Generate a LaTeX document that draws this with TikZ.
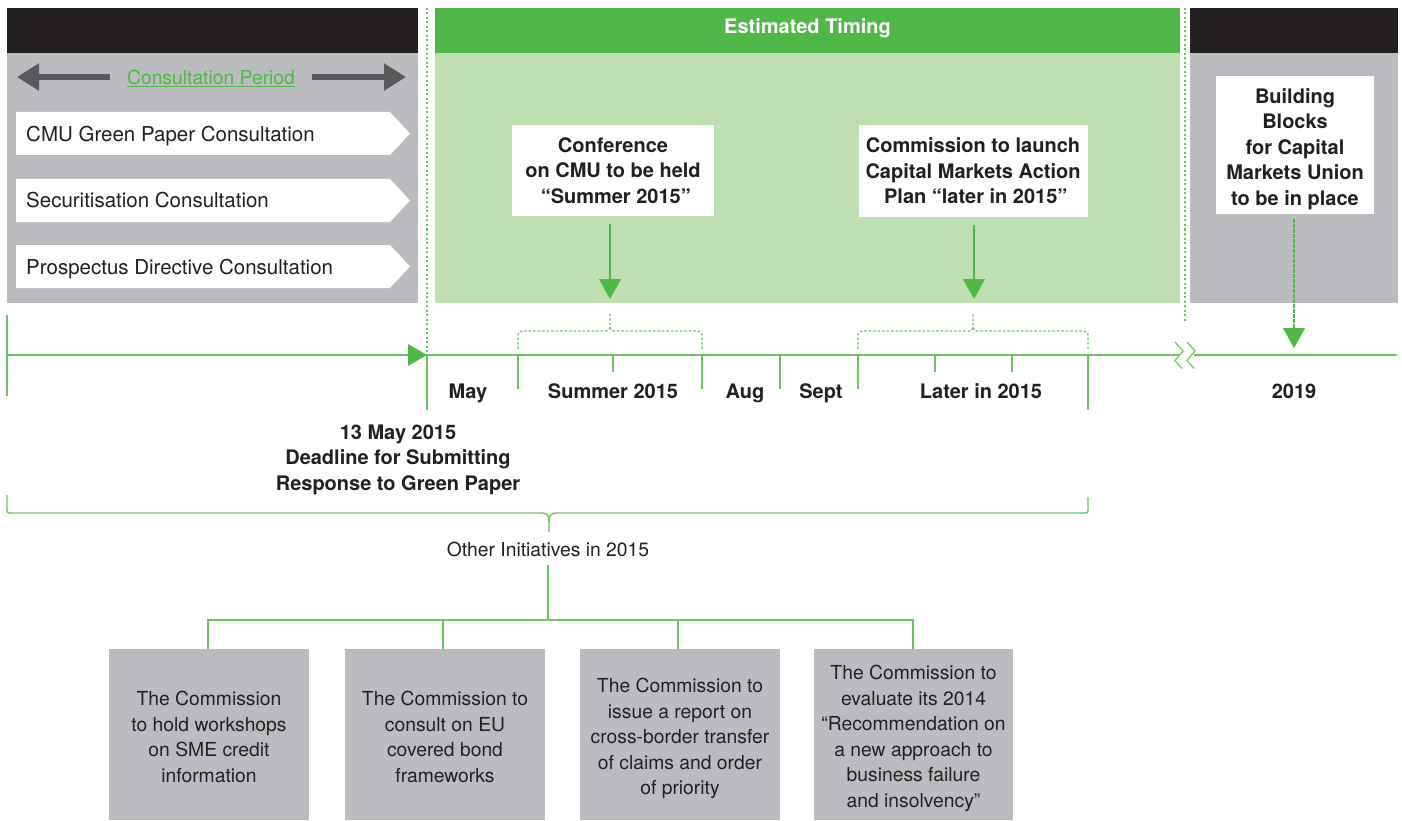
\documentclass[tikz,border=0pt]{standalone}
\usepackage{fontspec}
\setmainfont{TeX Gyre Heros}
\usetikzlibrary{arrows.meta,calc}
\definecolor{gline}{HTML}{6CC463}
\definecolor{garrow}{HTML}{50B848}
\definecolor{lgreen}{HTML}{BFDFB2}
\definecolor{panelgrey}{HTML}{BBBCBF}
\definecolor{hdrblack}{HTML}{231F20}
\definecolor{darrow}{HTML}{58595B}
\definecolor{txt}{HTML}{231F20}
\newcommand\regtxt{\fontsize{19.3}{25.5}\selectfont}
\newcommand\chevtxt{\fontsize{20.5}{25.5}\selectfont}
\newcommand\boldtxt{\fontsize{20}{25.5}\selectfont\bfseries}
\tikzset{
  gl/.style={draw=gline, line width=1.4pt},
  gdash/.style={draw=gline, line width=1.3pt, dash pattern=on 2.5pt off 2pt},
  gdot/.style={draw=gline, line width=1.6pt, dash pattern=on 2pt off 2.5pt},
  whitebox/.style={fill=white, inner sep=0pt},
  greybox/.style={fill=panelgrey, inner sep=0pt, minimum width=200pt, minimum height=171pt},
  boxtext/.style={align=center, text=txt, inner sep=0pt, font=\regtxt},
  boldtext/.style={align=center, text=txt, inner sep=0pt, font=\boldtxt},
  chev/.style={fill=white},
  lbl/.style={text=txt, font=\boldtxt, inner sep=0pt, anchor=base},
  darr/.style={draw=darrow, line width=6pt, -{Triangle[length=22pt,width=26pt]}},
  downarr/.style={draw=garrow, line width=1.1pt, -{Triangle[length=20pt,width=22pt]}},
  brk/.style={draw=gline, line width=1.2pt},
}
\begin{document}
\begin{tikzpicture}[x=1pt,y=-1pt]
\useasboundingbox (0,0) rectangle (1402,821);
% panels
\fill[hdrblack] (7,8) rectangle (418,53);
\fill[panelgrey] (7,53) rectangle (418,303);
\fill[garrow] (435,8) rectangle (1180,53);
\node[text=white, font=\boldtxt, inner sep=0pt, anchor=base] (est) at (807.5,34) {Estimated Timing};
\fill[lgreen] (435,53) rectangle (1180,303);
\fill[hdrblack] (1190,8) rectangle (1398,53);
\fill[panelgrey] (1190,53) rectangle (1398,303);

% consultation period
\node[text=garrow, font=\regtxt, inner sep=0pt, anchor=base] (cp) at (211,84.5) {\underline{Consultation Period}};
\coordinate (la) at (110,77); \coordinate (lb) at (17,77);
\coordinate (ra) at (312,77); \coordinate (rb) at (406,77);
\draw[darr] (la) -- (lb);
\draw[darr] (ra) -- (rb);

% chevron boxes
\foreach \yt/\yb/\bl/\name/\t in {112/155/141.5/c1/CMU Green Paper Consultation, 179/222/207.5/c2/Securitisation Consultation, 245/288/274/c3/Prospectus Directive Consultation}{
  \fill[chev] (16,\yt) -- (390,\yt) -- (410,{(\yt+\yb)/2}) -- (390,\yb) -- (16,\yb) -- cycle;
  \node[anchor=base west, text=txt, font=\chevtxt, inner sep=0pt] (\name) at (26,\bl) {\t};
}

% dotted separators
\coordinate (sepTop) at (427,8);
\coordinate (sepMid) at (427,355);
\coordinate (sepBot) at (427,410);
\draw[gdot] (sepTop) -- (sepMid);
\draw[gl] (sepMid) -- (sepBot);
\coordinate (sep2Top) at (1185,8);
\coordinate (sep2Bot) at (1185,322);
\draw[gdot] (sep2Top) -- (sep2Bot);

% timeline
\coordinate (tl0) at (7,355);
\coordinate (tlbreakL) at (1180,355);
\coordinate (tlbreakR) at (1194,355);
\coordinate (tlend) at (1397,355);
\draw[gl] (tl0) -- (tlbreakL);
\draw[gl] (tlbreakR) -- (tlend);
\draw[gl] (7,315) -- (7,396);
\fill[garrow] (408,344) -- (427,355) -- (408,366) -- cycle;
% break marks
\draw[brk] (1175,342) -- (1183,351) -- (1175,360.5) -- (1182,368.5);
\draw[brk] (1187,342) -- (1195,351) -- (1187,360.5) -- (1194,368.5);

% ticks
\foreach \x/\b in {518/389, 613/372, 702/389, 780/389, 858/389, 935/372, 1012/372, 1088/410}{
  \draw[gl] (\x,355) -- (\x,\b);
}

% labels
\node[lbl] (may) at (468,398) {May};
\node[lbl] (summer) at (613,398) {Summer 2015};
\node[lbl] (aug) at (745,398) {Aug};
\node[lbl] (sept) at (821,398) {Sept};
\node[lbl] (later) at (981,398) {Later in 2015};
\node[lbl] (y2019) at (1294,398) {2019};

\node[boldtext] (deadline) at (398,459.5) {13 May 2015\\Deadline for Submitting\\Response to Green Paper};

% top boxes
\node[whitebox, minimum width=202pt, minimum height=91pt] (conf) at (613,170.5) {};
\node[boldtext] (confT) at (613,170.5) {Conference\\on CMU to be held\\\ “Summer 2015”};
\node[whitebox, minimum width=229pt, minimum height=92pt] (comm) at (973,171) {};
\node[boldtext] (commT) at (973,171) {Commission to launch\\Capital Markets Action\\\ Plan “later in 2015”};
\node[whitebox, minimum width=158pt, minimum height=138pt] (bb) at (1295,145) {};
\node[boldtext] (bbT) at (1295,149) {Building\\Blocks\\for Capital\\Markets Union\\to be in place};

% arrows down
\coordinate (confTip) at (610,299);
\coordinate (commTip) at (974,299);
\coordinate (bbTip) at (1294,348);
\draw[downarr] ([yshift=-8pt]conf.south -| confTip) -- (confTip);
\draw[downarr] ([yshift=-8pt]comm.south -| commTip) -- (commTip);
\draw[downarr, dash pattern=on 4pt off 1pt] ([yshift=-5pt]bb.south -| bbTip) -- (bbTip);

% dashed braces
\draw[gdash] (518,349) -- (518,337) .. controls (518,332) .. (523,331) -- (604,331) .. controls (609,331) .. (610,326) -- (610,313);
\draw[gdash] (702,349) -- (702,337) .. controls (702,332) .. (697,331) -- (616,331) .. controls (611,331) .. (610,326);
\draw[gdash] (858,349) -- (858,337) .. controls (858,332) .. (863,331) -- (967,331) .. controls (972,331) .. (973,326) -- (973,313);
\draw[gdash] (1088,349) -- (1088,337) .. controls (1088,332) .. (1083,331) -- (979,331) .. controls (974,331) .. (973,326);

% big brace
\draw[gl] (7,495) -- (7,508) .. controls (7,513) .. (12,513) -- (541,513) .. controls (548,513) and (549,516) .. (549,522) -- (549,532);
\draw[gl] (1088,497) -- (1088,508) .. controls (1088,513) .. (1083,513) -- (557,513) .. controls (550,513) and (549,516) .. (549,522);

\node[text=txt, font=\regtxt, inner sep=0pt, anchor=base] (other) at (548,556) {Other Initiatives in 2015};

% bottom boxes
\node[greybox] (b1) at (209,734.5) {};
\node[boxtext] (b1t) at (209,737) {The Commission\\to hold workshops\\on SME credit\\information};
\node[greybox] (b2) at (445,734.5) {};
\node[boxtext] (b2t) at (445,737) {The Commission to\\consult on EU\\covered bond\\frameworks};
\node[greybox] (b3) at (680,734.5) {};
\node[boxtext] (b3t) at (680,738.5) {The Commission to\\issue a report on\\cross-border transfer\\of claims and order\\of priority};
\node[greybox, minimum width=199pt] (b4) at (913.5,734.5) {};
\node[boxtext] (b4t) at (913.5,738.5) {The Commission to\\evaluate its 2014\\“Recommendation on\\a new approach to\\business failure\\and insolvency”};

% tree
\coordinate (otherLow) at (548,565);
\coordinate (tj) at (548,620);
\draw[gl] (otherLow) -- (tj);
\draw[gl] (tj) -| (b1.north -| 208,0);
\draw[gl] (tj) -| (b4.north -| 913,0);
\draw[gl] (443,620) -- (b2.north -| 443,0);
\draw[gl] (678,620) -- (b3.north -| 678,0);
\end{tikzpicture}
\end{document}
